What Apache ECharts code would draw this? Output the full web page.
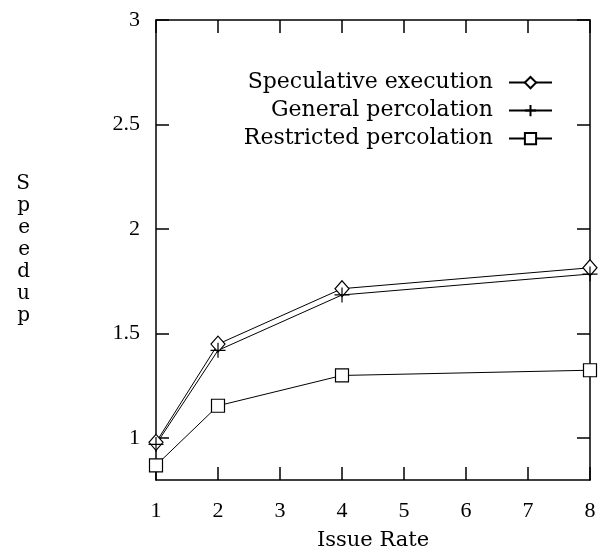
<!DOCTYPE html>
<html>
<head>
	<title>Speedup</title>
	<script src="https://cdn.jsdelivr.net/npm/echarts@6/dist/echarts.min.js"></script>
</head>
<body style="margin:0">
	<div id="main" style="width:602px;height:552px"></div>
	<script type="text/javascript">
var issueRates = [1, 2, 4, 8];
var speculative = [0.98, 1.45, 1.715, 1.815];
var general = [0.97, 1.42, 1.685, 1.785];
var restricted = [0.87, 1.155, 1.30, 1.325];
var seriesNames = ['Speculative execution', 'General percolation', 'Restricted percolation'];
var xTicks = [1, 2, 3, 4, 5, 6, 7, 8];
var yTicks = [1, 1.5, 2, 2.5, 3];

var NUMFONT = 'Liberation Serif';
var FONT = 'DejaVu Serif';
var myChart = echarts.init(document.getElementById('main'));

function pts(vals) {
    return issueRates.map(function (x, i) { return [x, vals[i]]; });
}

function axisX(pos, labels) {
    return {
        type: 'value', position: pos, min: 1, max: 8, interval: 1,
        name: labels ? 'Issue Rate' : '', nameLocation: 'middle', nameGap: 40, nameMoveOverlap: false,
        nameTextStyle: { fontFamily: FONT, fontSize: 21, color: '#000' },
        axisLine: { show: true, lineStyle: { color: '#000', width: 1.5 } },
        axisTick: { show: true, inside: true, length: 13, lineStyle: { color: '#000', width: 1.5 } },
        axisLabel: { show: labels, margin: 14, fontFamily: NUMFONT, fontSize: 22, color: '#000' },
        splitLine: { show: false }
    };
}

function axisY(pos, labels) {
    return {
        type: 'value', position: pos, min: 0.8, max: 3,
        name: labels ? 'S\np\ne\ne\nd\nu\np' : '', nameLocation: 'middle', nameGap: 126, nameRotate: 0,
        nameMoveOverlap: false,
        nameTextStyle: { fontFamily: FONT, fontSize: 20, color: '#000', lineHeight: 22 },
        axisLine: { show: true, lineStyle: { color: '#000', width: 1.5 } },
        axisTick: { show: true, inside: true, length: 13, customValues: yTicks, lineStyle: { color: '#000', width: 1.5 } },
        axisLabel: { show: labels, margin: 16, customValues: yTicks, fontFamily: NUMFONT, fontSize: 22, color: '#000' },
        splitLine: { show: false }
    };
}

function line(name, vals, symbol, size) {
    return {
        name: name, type: 'line', data: pts(vals),
        symbol: symbol, symbolSize: size, showAllSymbol: true,
        lineStyle: { color: '#000', width: 1 },
        itemStyle: { color: '#fff', borderColor: '#000', borderWidth: 1.2 },
        emphasis: { disabled: true }
    };
}

// one legend per row so the rows sit close together like the original
function legendRow(name, top) {
    return {
        right: 49, top: top, orient: 'vertical', align: 'right',
        itemWidth: 43, itemHeight: 14, padding: 0,
        textStyle: { fontFamily: FONT, fontSize: 22, color: '#000', lineHeight: 22, padding: [0, 11, 0, 0] },
        data: [name]
    };
}

var option = {
    animation: false,
    grid: { left: 156, right: 12, top: 20, bottom: 72, outerBoundsMode: 'none' },
    legend: [
        legendRow(seriesNames[0], 61),
        legendRow(seriesNames[1], 89),
        legendRow(seriesNames[2], 117)
    ],
    xAxis: [axisX('bottom', true), axisX('top', false)],
    yAxis: [axisY('left', true), axisY('right', false)],
    series: [
        line(seriesNames[0], speculative, 'diamond', [14, 16]),
        line(seriesNames[1], general, 'path://M0,5L10,5M5,0L5,10', 15),
        line(seriesNames[2], restricted, 'rect', 13)
    ]
};

myChart.setOption(option);
	</script>
</body>
</html>
